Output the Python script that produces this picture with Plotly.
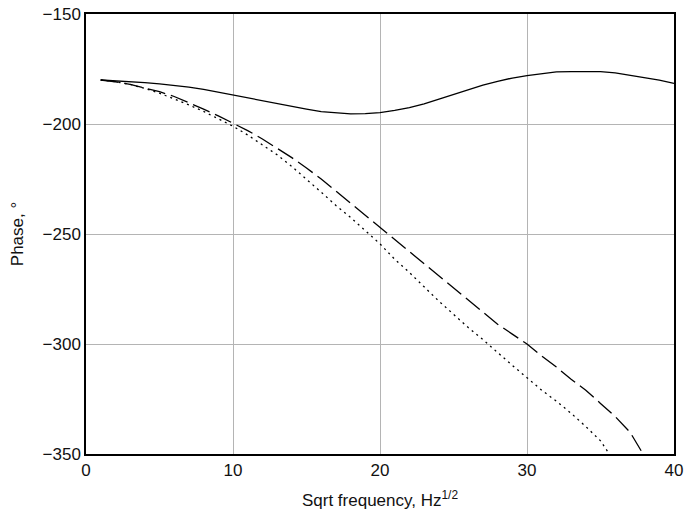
import plotly.graph_objects as go

x_solid = [1, 2, 3, 4, 5, 6, 7, 8, 9, 10, 11, 12, 13, 14, 15, 16, 17, 18, 19, 20,
           21, 22, 23, 24, 25, 26, 27, 28, 29, 30, 31, 32, 33, 34, 35, 36, 37, 38, 39, 40]
y_solid = [-180, -180.3, -180.7, -181.2, -181.8, -182.5, -183.2, -184.3, -185.6, -187,
           -188.3, -189.6, -190.8, -192, -193.2, -194.4, -195, -195.4, -195.3, -194.8,
           -193.8, -192.6, -190.8, -188.6, -186.4, -184.3, -182.3, -180.6, -179.1, -178,
           -177, -176.3, -176.2, -176.2, -176.2, -176.8, -177.8, -178.8, -180.1, -181.5]

x_dash = [1, 2, 3, 4, 5, 6, 7, 8, 9, 10, 11, 12, 13, 14, 15, 16, 17, 18, 19, 20,
          21, 22, 23, 24, 25, 26, 27, 28, 29, 30, 31, 32, 33, 34, 35, 36, 37, 37.9]
y_dash = [-180, -180.8, -182, -183.5, -185.3, -187.5, -190.2, -193.2, -196.3, -199.6,
          -203, -206.8, -211, -215.3, -220, -225, -230.5, -236, -241.5, -247,
          -252.5, -258, -263.5, -269, -274.7, -280.2, -285.5, -291, -295.5, -300,
          -305.5, -310.5, -316, -321, -327, -333, -340, -350]

x_dot = [1, 2, 3, 4, 5, 6, 7, 8, 9, 10, 11, 12, 13, 14, 15, 16, 17, 18, 19, 20,
         21, 22, 23, 24, 25, 26, 27, 28, 29, 30, 31, 32, 33, 34, 35, 35.6]
y_dot = [-180, -180.8, -182, -183.8, -186, -188.5, -191.3, -194.3, -197.5, -201,
         -205, -209.3, -214, -219.3, -225, -231, -237, -242.5, -248.5, -254.5,
         -261.5, -267.5, -274, -280.5, -286.5, -292.5, -298, -304, -309.7, -315.3,
         -321, -326, -331.5, -337.5, -344, -350]

x_ticks = [0, 10, 20, 30, 40]
y_ticks = [-150, -200, -250, -300, -350]

fig = go.Figure()
fig.add_trace(go.Scatter(x=x_solid, y=y_solid, mode="lines",
                         line=dict(color="black", width=1.3, dash="solid"), showlegend=False))
fig.add_trace(go.Scatter(x=x_dash, y=y_dash, mode="lines",
                         line=dict(color="black", width=1.3, dash="18px,6px"), showlegend=False))
fig.add_trace(go.Scatter(x=x_dot, y=y_dot, mode="lines",
                         line=dict(color="black", width=1.3, dash="2px,4px"), showlegend=False))

font = "Liberation Sans, Arial, sans-serif"
fig.update_layout(
    width=686, height=519,
    margin=dict(l=86, r=12, t=14, b=65),
    paper_bgcolor="white", plot_bgcolor="white",
    font=dict(family=font, size=17, color="#111111"),
    xaxis=dict(range=[0, 40], tickvals=x_ticks, showgrid=True, gridcolor="#b4b4b4",
               gridwidth=1, showline=True, linecolor="black", linewidth=1.5, mirror=True,
               ticks="", zeroline=False, tickfont=dict(size=17), automargin=False,
               title=dict(text="Sqrt frequency, Hz<sup>1/2</sup>", font=dict(size=17))),
    yaxis=dict(range=[-350, -150], tickvals=y_ticks, showgrid=True, gridcolor="#b4b4b4",
               gridwidth=1, showline=True, linecolor="black", linewidth=1.5, mirror=True,
               ticks="", zeroline=False, tickfont=dict(size=17), automargin=False,
               title=dict(text="Phase, °", font=dict(size=17))),
)
fig.write_html("out.html", config={"displayModeBar": False},
               post_script="document.body.style.margin='0';")
